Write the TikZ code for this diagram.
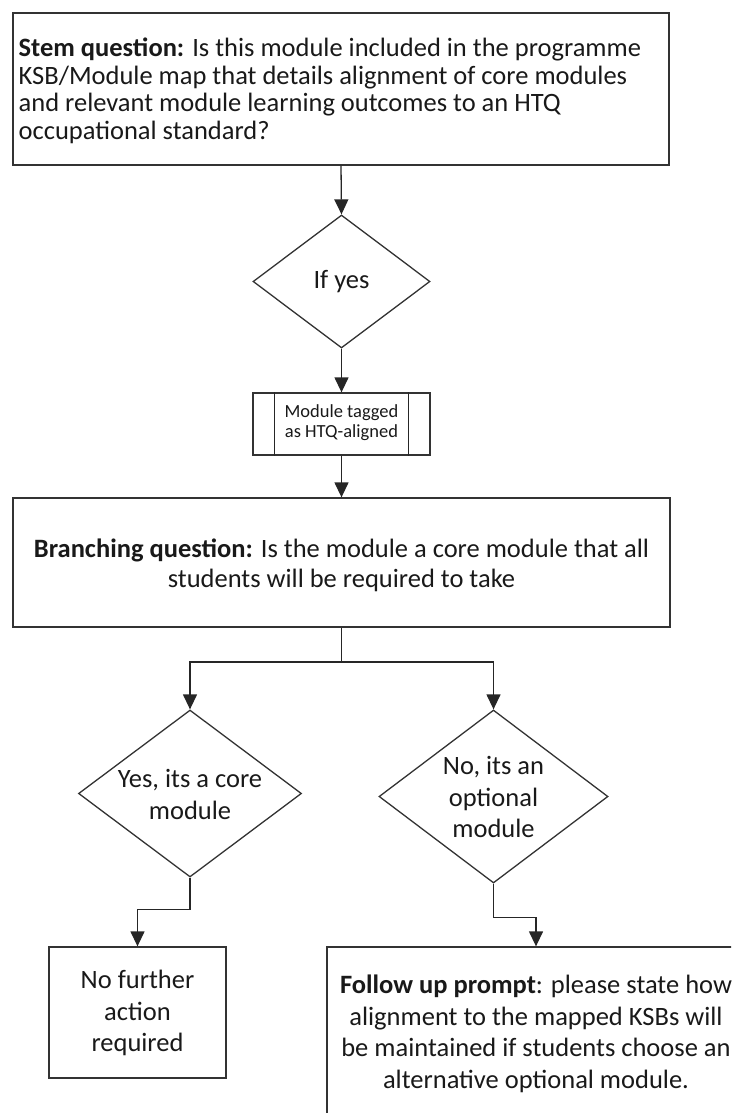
\documentclass[tikz,border=0pt]{standalone}
\usepackage{fontspec}
\setmainfont{Carlito}
\usetikzlibrary{arrows.meta,shapes.geometric}
\begin{document}
\begin{tikzpicture}[x=1pt,y=-1pt,
  line width=1.3pt,
  box/.style={draw=black!80, rectangle, inner sep=0pt},
  dia/.style={draw=black!80, diamond, inner sep=0pt},
  txt/.style={font=\fontsize{26.5}{31.5}\selectfont, align=center, text=black!90, inner sep=0pt},
  conn/.style={draw=black!85, line width=1.3pt},
  arr/.style={conn, -{Triangle[width=14pt,length=15pt]}},
]
\useasboundingbox (0,0) rectangle (731,1113);
\clip (0,0) rectangle (731,1113);

% nodes
\node[box, minimum width=656pt, minimum height=152pt] (stem) at (341,89) {};
\node[txt, align=left, anchor=west, font=\fontsize{26.5}{27.5}\selectfont] (stemtxt) at (18,91)
  {\textbf{Stem question:} Is this module included in the programme\\
   KSB/Module map that details alignment of core modules\\
   and relevant module learning outcomes to an HTQ\\
   occupational standard?};

\node[dia, minimum width=177pt, minimum height=133pt] (ifyes) at (341.5,281.5) {};
\node[txt] (ifyestxt) at (341.5,281.5) {If yes};

\node[box, minimum width=177pt, minimum height=62pt] (tag) at (341.5,424) {};
\node[txt, font=\fontsize{18.5}{20}\selectfont] (tagtxt) at (341.5,423) {Module tagged\\as HTQ-aligned};
\draw[conn] ([xshift=22pt]tag.north west) -- ([xshift=22pt]tag.south west);
\draw[conn] ([xshift=-22pt]tag.north east) -- ([xshift=-22pt]tag.south east);

\node[box, minimum width=657pt, minimum height=129pt] (branch) at (341.5,562.5) {};
\node[txt, font=\fontsize{26.5}{30}\selectfont] (branchtxt) at (341.5,565)
  {\textbf{Branching question:} Is the module a core module that all\\
   students will be required to take};

\node[dia, minimum width=223pt, minimum height=167pt] (yes) at (190,793.5) {};
\node[txt, font=\fontsize{26.5}{32}\selectfont] (yestxt) at (190,794) {Yes, its a core\\module};

\node[dia, minimum width=229pt, minimum height=173pt] (no) at (493.5,796.5) {};
\node[txt] (notxt) at (493.5,797) {No, its an\\optional\\module};

\node[box, minimum width=177pt, minimum height=131pt] (nofurther) at (137.5,1012.5) {};
\node[txt] (nofurthertxt) at (137.5,1013) {No further\\action\\required};

\node[box, minimum width=418pt, minimum height=178pt] (follow) at (536,1036) {};
\node[txt] (followtxt) at (536,1034)
  {\textbf{Follow up prompt}: please state how\\
   alignment to the mapped KSBs will\\
   be maintained if students choose an\\
   alternative optional module.};

% connectors
\draw[arr] (stem.south) -- (ifyes.north);
\draw[arr] (ifyes.south) -- (tag.north);
\draw[arr] (tag.south) -- (branch.north);
\coordinate (split) at (341.5,662);
\draw[conn] (branch.south) -- (split);
\draw[arr] (split) -| (yes.north);
\draw[arr] (split) -| (no.north);
\draw[arr] (yes.south) -- ++(0,32) -| (nofurther.north);
\draw[arr] (no.south) -- ++(0,34) -| (follow.north);
\end{tikzpicture}
\end{document}
